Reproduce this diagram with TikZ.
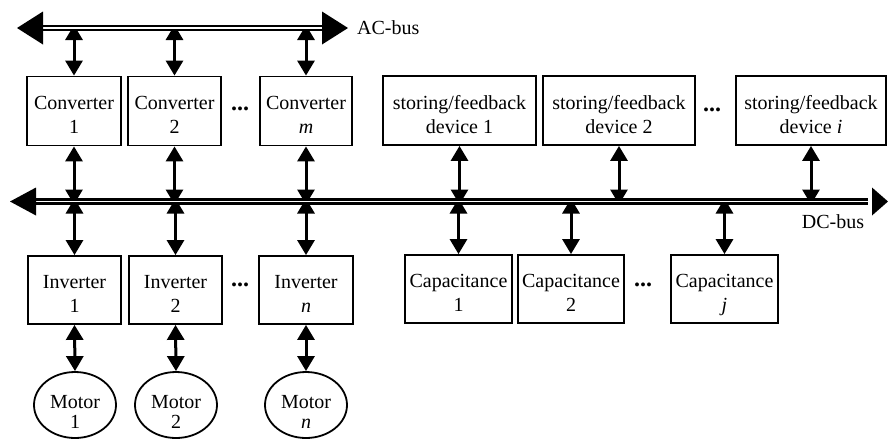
\documentclass[tikz,border=0pt]{standalone}
\usepackage{fontspec}
\setmainfont{Liberation Serif}
\usetikzlibrary{arrows.meta,shapes.geometric}

% two-line label with fixed top and bottom struts, so all labels sit alike
\newcommand{\boxtext}[2]{\rule{0pt}{26pt}#1\\#2\rule[-5pt]{0pt}{5pt}}
% motor label: zero-size box so the ellipse keeps its own size
\newcommand{\motortext}[2]{\raisebox{-23pt}[0pt][0pt]{\begin{tabular}[b]{@{}c@{}}#1\\#2\end{tabular}}}

\tikzset{
  unitbox/.style={draw, line width=1.8pt, rectangle, align=center, inner sep=0pt,
    font=\fontsize{20}{24}\selectfont},
  motorbox/.style={draw, line width=1.8pt, ellipse, inner sep=0pt,
    minimum width=82pt, minimum height=66pt, font=\fontsize{20}{20}\selectfont},
  biarrow/.style={line width=3pt,
    {Triangle[length=15pt,width=17pt]}-{Triangle[length=15pt,width=17pt]}},
  busline/.style={line width=2.6pt, double, double distance=1.6pt},
  bustip/.style={fill=black},
  lbl/.style={font=\fontsize{20}{22}\selectfont, inner sep=0pt},
  dotsl/.style={font=\fontsize{24}{24}\selectfont\bfseries, inner sep=0pt}
}

\begin{document}
\begin{tikzpicture}[x=1pt,y=-1pt]
\useasboundingbox (0,0) rectangle (888,440);

% bus reference lines
\coordinate (ac) at (0,28);
\coordinate (dc) at (0,201.5);
\coordinate (acL) at (17,28);
\coordinate (acR) at (348,28);
\coordinate (dcL) at (10,201.5);
\coordinate (dcR) at (888,201.5);

% converters
\node[unitbox, minimum width=94pt, minimum height=69pt] (c1) at (74,111) {\boxtext{Converter}{1}};
\node[unitbox, minimum width=93pt, minimum height=69pt] (c2) at (174.5,111) {\boxtext{Converter}{2}};
\node[unitbox, minimum width=92pt, minimum height=69pt] (c3) at (306,111) {\boxtext{Converter}{\textit{m}}};
\node[dotsl] (d1) at (240,109) {...};

% storing / feedback devices
\node[unitbox, minimum width=153pt, minimum height=69pt] (s1) at (459.5,110.5) {\boxtext{storing/feedback}{device 1}};
\node[unitbox, minimum width=152pt, minimum height=69pt] (s2) at (619,110.5) {\boxtext{storing/feedback}{device 2}};
\node[unitbox, minimum width=150pt, minimum height=69pt] (s3) at (811,110.5) {\boxtext{storing/feedback}{device \textit{i}}};
\node[dotsl] (d2) at (712,110) {...};

% inverters
\node[unitbox, minimum width=93pt, minimum height=68pt] (i1) at (74.5,290) {\boxtext{Inverter}{1}};
\node[unitbox, minimum width=93pt, minimum height=68pt] (i2) at (175.5,290) {\boxtext{Inverter}{2}};
\node[unitbox, minimum width=94pt, minimum height=68pt] (i3) at (306,290) {\boxtext{Inverter}{\textit{n}}};
\node[dotsl] (d3) at (240,285) {...};

% capacitances
\node[unitbox, minimum width=107pt, minimum height=68pt] (k1) at (458.5,289) {\boxtext{Capacitance}{1}};
\node[unitbox, minimum width=106pt, minimum height=68pt] (k2) at (571,289) {\boxtext{Capacitance}{2}};
\node[unitbox, minimum width=107pt, minimum height=68pt] (k3) at (724.5,289) {\boxtext{Capacitance}{\textit{j}}};
\node[dotsl] (d4) at (643,285) {...};

% motors
\node[motorbox] (m1) at (75,405) {\motortext{Motor}{1}};
\node[motorbox] (m2) at (176,405) {\motortext{Motor}{2}};
\node[motorbox] (m3) at (306,405) {\motortext{Motor}{\textit{n}}};

% bus labels
\node[lbl, anchor=west] (aclbl) at (357,28) {AC-bus};
\node[lbl] (dclbl) at (833,222) {DC-bus};

% converter links
\foreach \n in {c1,c2,c3} {
  \draw[biarrow] ([yshift=3pt]\n.north |- ac) -- (\n.north);
  \draw[biarrow] (\n.south) -- ([yshift=-3pt]\n.south |- dc);
}
% storing links
\foreach \n in {s1,s2,s3} {
  \draw[biarrow] (\n.south) -- ([yshift=-3pt]\n.south |- dc);
}
% inverter links
\foreach \n in {i1,i2,i3} {
  \draw[biarrow] ([yshift=3pt]\n.north |- dc) -- (\n.north);
}
\draw[biarrow] (i1.south) -- (m1.north);
\draw[biarrow] (i2.south) -- (m2.north);
\draw[biarrow] (i3.south) -- (m3.north);
% capacitance links
\foreach \n in {k1,k2,k3} {
  \draw[biarrow] ([yshift=3pt]\n.north |- dc) -- (\n.north);
}

% AC bus
\draw[busline] ([xshift=20pt]acL) -- ([xshift=-20pt]acR);
\fill[bustip] (acL) -- ++(26,-16.5) -- ++(0,33) -- cycle;
\fill[bustip] (acR) -- ++(-26,-16.5) -- ++(0,33) -- cycle;

% DC bus
\draw[busline] ([xshift=20pt]dcL) -- ([xshift=-20pt]dcR);
\fill[bustip] (dcL) -- ++(26,-14) -- ++(0,28) -- cycle;
\fill[bustip] (dcR) -- ++(-16,-14) -- ++(0,28) -- cycle;
\end{tikzpicture}
\end{document}
